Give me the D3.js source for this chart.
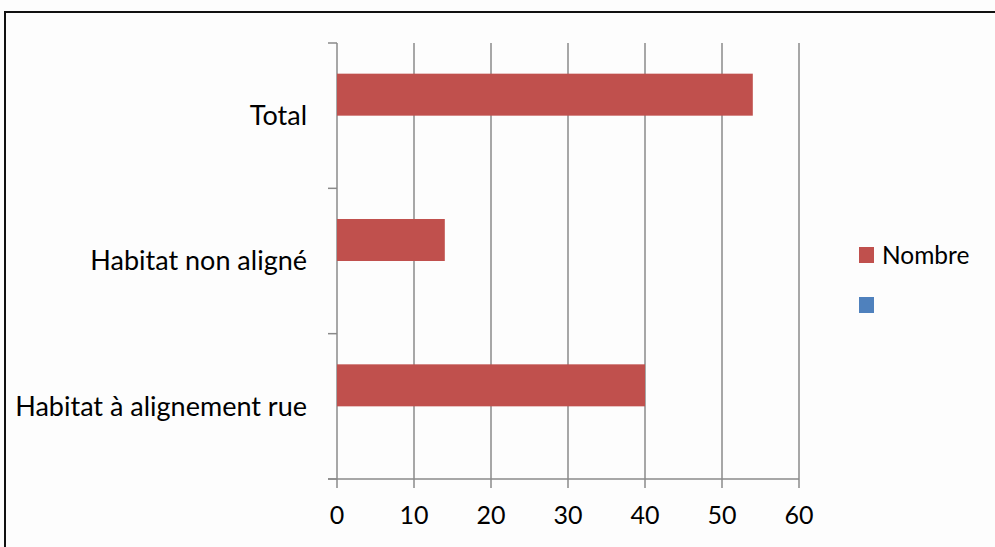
<!DOCTYPE html>
<html>
<head>
<meta charset="utf-8">
<script src="https://cdn.jsdelivr.net/npm/d3@7"></script>
<style>
  html, body { margin: 0; padding: 0; background: #fdfdfd; }
  svg { display: block; }
  text { font-family: Lato, "Open Sans", sans-serif; fill: #000; }
</style>
</head>
<body>
<svg id="chart" width="995" height="547"></svg>
<script>
// ---- data ----
const categories = ["Total", "Habitat non aligné", "Habitat à alignement rue"];
const seriesNames = ["Nombre", ""];
const nombreValues = [54, 14, 40];
const secondValues = [null, null, null];
const xTicks = [0, 10, 20, 30, 40, 50, 60];
const seriesColors = ["#C0504D", "#4F81BD"];

const seriesValues = [nombreValues, secondValues];

const svg = d3.select("#chart");

// frame
svg.append("rect")
  .attr("x", 5).attr("y", 12)
  .attr("width", 1100).attr("height", 600)
  .attr("fill", "#fdfdfd")
  .attr("stroke", "#111").attr("stroke-width", 2);

const x = d3.scaleLinear().domain([0, 60]).range([337, 799]);
const y = d3.scaleBand().domain(categories).range([43, 479]).padding(0);
const y1 = d3.scaleBand().domain(d3.range(seriesNames.length))
  .range([0, y.bandwidth()]).paddingInner(0).paddingOuter(0.73);

const gridColor = "#8a8a8a";

// vertical gridlines (extend below axis as ticks)
svg.append("g").selectAll("line").data(xTicks).join("line")
  .attr("x1", d => x(d)).attr("x2", d => x(d))
  .attr("y1", 43).attr("y2", 488)
  .attr("stroke", gridColor).attr("stroke-width", 1.5);

// category boundary ticks on y axis
const bounds = categories.map(c => y(c)).concat([y.range()[1]]);
svg.append("g").selectAll("line").data(bounds).join("line")
  .attr("x1", 328).attr("x2", x(0))
  .attr("y1", d => d).attr("y2", d => d)
  .attr("stroke", gridColor).attr("stroke-width", 1.5);

// horizontal axis line
svg.append("line")
  .attr("x1", 328).attr("x2", x(60))
  .attr("y1", y.range()[1]).attr("y2", y.range()[1])
  .attr("stroke", gridColor).attr("stroke-width", 1.5);

// bars
seriesValues.forEach((vals, si) => {
  svg.append("g").selectAll("rect")
    .data(categories.map((c, i) => ({ c, v: vals[i] })).filter(d => d.v != null))
    .join("rect")
    .attr("x", x(0))
    .attr("y", d => y(d.c) + y1(si))
    .attr("width", d => x(d.v) - x(0))
    .attr("height", y1.bandwidth())
    .attr("fill", seriesColors[si]);
});

// x tick labels
svg.append("g").selectAll("text").data(xTicks).join("text")
  .attr("x", d => x(d)).attr("y", 524)
  .attr("text-anchor", "middle")
  .attr("font-size", 25)
  .text(d => d);

// category labels
svg.append("g").selectAll("text").data(categories).join("text")
  .attr("x", 307)
  .attr("y", d => y(d) + y.bandwidth() / 2)
  .attr("dy", "0.35em")
  .attr("text-anchor", "end")
  .attr("font-size", 27)
  .text(d => d);

// legend
const legend = svg.append("g").selectAll("g").data(seriesNames).join("g")
  .attr("transform", (d, i) => `translate(859, ${247 + i * 50})`);
legend.append("rect")
  .attr("width", 15).attr("height", 16)
  .attr("fill", (d, i) => seriesColors[i]);
legend.append("text")
  .attr("x", 23).attr("y", 8).attr("dy", "0.35em")
  .attr("font-size", 24.5)
  .text(d => d);
</script>
</body>
</html>
